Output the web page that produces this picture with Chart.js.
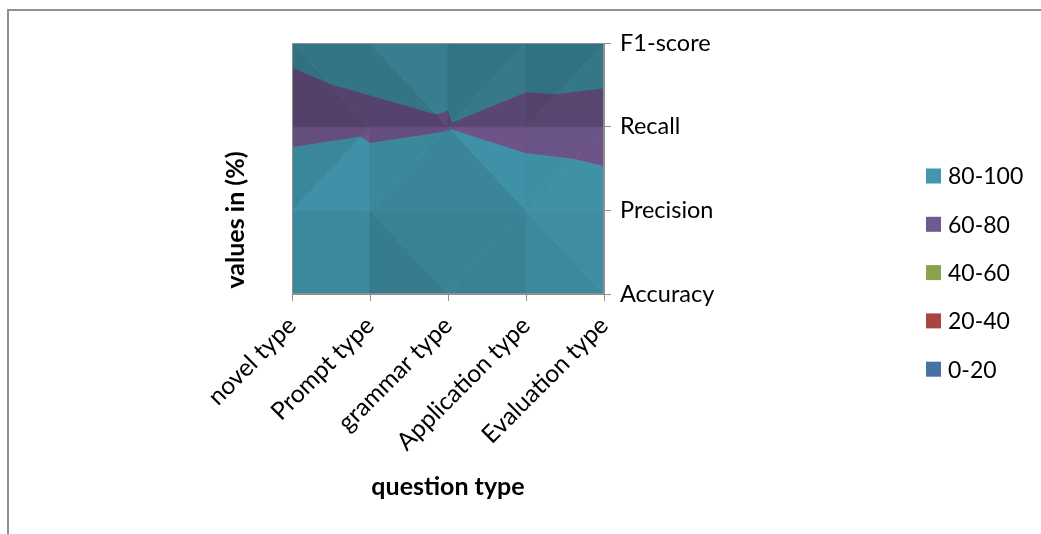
<!DOCTYPE html>
<html>
<head>
<meta charset="utf-8">
<script src="https://cdn.jsdelivr.net/npm/chart.js@4"></script>
<style>
  html, body { margin: 0; padding: 0; background: #fff; overflow: hidden; }
  #frame { position: absolute; left: 7px; top: 9px; width: 1100px; height: 600px;
           border-left: 2px solid #8f8f8f; border-top: 2px solid #8f8f8f; }
  canvas { position: absolute; left: 0; top: 0; }
</style>
</head>
<body>
<div id="frame"></div>
<canvas id="c" width="1041" height="534"></canvas>
<script>
// ---- data (values in %) ----
const categories = ['novel type', 'Prompt type', 'grammar type', 'Application type', 'Evaluation type'];
const metrics = ['Accuracy', 'Precision', 'Recall', 'F1-score'];
const accuracy  = [91, 86, 91, 92, 89];
const precision = [92, 86.8, 89.9, 92.6, 88.7];
const recall    = [76, 78.3, 79.5, 74, 72];
const f1score   = [81.6, 82.8, 82, 88.4, 89.2];
const bandLabels = ['0-20', '20-40', '40-60', '60-80', '80-100'];
const bandEdges  = [0, 20, 40, 60, 80, 100];
const bandColors = [[79,129,189],[192,80,77],[155,187,89],[128,100,162],[75,172,198]];
// triangulation of each surface cell: 'u' = "/" diagonal, 'd' = "\" diagonal (rows bottom->top)
const cellSplit = [['u','d','u','d'], ['u','u','d','u'], ['d','d','u','u']];

const grid = [accuracy, precision, recall, f1score]; // grid[row][col]

const FONT = 'Lato, "Open Sans", sans-serif';

function shadeFactor(gx, gy) {
  const base = gy > 0 ? 0.79 - 0.12 * Math.tanh(gy / 4) : 0.79 + 0.02 * Math.tanh(-gy / 4);
  const tx = Math.tanh(gx / 3);
  return base - (tx > 0 ? 0.05 : 0.035) * tx;
}

function clipPoly(poly, f) {
  const out = [];
  for (let k = 0; k < poly.length; k++) {
    const a = poly[k], b = poly[(k + 1) % poly.length];
    const fa = f(a), fb = f(b);
    if (fa >= 0) out.push(a);
    if ((fa >= 0) !== (fb >= 0)) {
      const t = fa / (fa - fb);
      out.push({x: a.x + t * (b.x - a.x), y: a.y + t * (b.y - a.y), z: a.z + t * (b.z - a.z)});
    }
  }
  return out;
}

function triangles() {
  const tris = [];
  for (let j = 0; j < metrics.length - 1; j++) {
    for (let i = 0; i < categories.length - 1; i++) {
      const p = (x, y) => ({x: x, y: y, z: grid[y][x]});
      const bl = p(i, j), br = p(i + 1, j), tl = p(i, j + 1), tr = p(i + 1, j + 1);
      if (cellSplit[j][i] === 'u') { tris.push([bl, br, tr]); tris.push([bl, tr, tl]); }
      else { tris.push([tl, bl, br]); tris.push([tl, br, tr]); }
    }
  }
  return tris;
}

function gradient(t) {
  const [p, q, r] = t;
  const ux = q.x - p.x, uy = q.y - p.y, uz = q.z - p.z;
  const vx = r.x - p.x, vy = r.y - p.y, vz = r.z - p.z;
  const nx = uy * vz - uz * vy, ny = uz * vx - ux * vz, nz = ux * vy - uy * vx;
  return [-nx / nz, -ny / nz];
}

const surfacePlugin = {
  id: 'surface',
  beforeDatasetsDraw(chart) {
    const {ctx, chartArea, scales: {x, y}} = chart;
    ctx.save();
    ctx.beginPath();
    ctx.rect(chartArea.left, chartArea.top, chartArea.right - chartArea.left, chartArea.bottom - chartArea.top);
    ctx.clip();
    for (const t of triangles()) {
      const [gx, gy] = gradient(t);
      const f = shadeFactor(gx, gy);
      for (let b = 0; b < bandLabels.length; b++) {
        const lo = b === 0 ? -Infinity : bandEdges[b];
        const hi = b === bandLabels.length - 1 ? Infinity : bandEdges[b + 1];
        let poly = clipPoly(t, v => v.z - lo);
        if (poly.length < 3) continue;
        poly = clipPoly(poly, v => hi - v.z);
        if (poly.length < 3) continue;
        const c = bandColors[b].map(v => Math.round(v * f));
        const col = `rgb(${c[0]},${c[1]},${c[2]})`;
        ctx.beginPath();
        poly.forEach((v, k) => {
          const px = x.getPixelForValue(v.x), py = y.getPixelForValue(v.y);
          if (k === 0) ctx.moveTo(px, py); else ctx.lineTo(px, py);
        });
        ctx.closePath();
        ctx.fillStyle = col;
        ctx.strokeStyle = col;
        ctx.lineWidth = 0.8;
        ctx.fill();
        ctx.stroke();
      }
    }
    ctx.restore();
    ctx.save();
    ctx.strokeStyle = '#8f8f8f';
    ctx.lineWidth = 1;
    ctx.strokeRect(chartArea.left + 0.5, chartArea.top + 0.5, chartArea.right - chartArea.left - 1, chartArea.bottom - chartArea.top - 1);
    ctx.restore();
  },
  afterDraw(chart) {
    const {ctx} = chart;
    ctx.save();
    ctx.font = `23px ${FONT}`;
    ctx.textBaseline = 'middle';
    ctx.textAlign = 'left';
    for (let k = 0; k < bandLabels.length; k++) {
      const b = bandLabels.length - 1 - k;
      const yc = 176 + k * 48.3;
      const c = bandColors[b].map(v => Math.round(v * 0.88));
      ctx.fillStyle = `rgb(${c[0]},${c[1]},${c[2]})`;
      ctx.fillRect(926, yc - 7.5, 15, 15);
      ctx.fillStyle = '#000';
      ctx.fillText(bandLabels[b], 948, yc + 1);
    }
    ctx.font = `bold 25px ${FONT}`;
    ctx.textAlign = 'center';
    ctx.fillText('question type', 448, 487);
    ctx.translate(236, 220);
    ctx.rotate(-Math.PI / 2);
    ctx.fillText('values in (%)', 0, 0);
    ctx.restore();
  }
};

const pointData = [];
grid.forEach((row, j) => row.forEach((v, i) => pointData.push({x: i, y: j, v: v})));

new Chart(document.getElementById('c'), {
  type: 'scatter',
  data: { datasets: [{ label: 'surface', data: pointData, pointRadius: 0, showLine: false }] },
  options: {
    responsive: false,
    animation: false,
    events: [],
    layout: { padding: { left: 292, top: 43, right: 0, bottom: 0 } },
    plugins: { legend: { display: false }, tooltip: { enabled: false } },
    scales: {
      x: {
        type: 'linear', min: 0, max: categories.length - 1, position: 'bottom', z: 1,
        grid: { display: true, drawOnChartArea: false, drawTicks: true, tickLength: 7, color: '#8f8f8f' },
        border: { display: true, color: '#8f8f8f' },
        ticks: { stepSize: 1, autoSkip: false, maxRotation: 45, minRotation: 45, padding: 10,
                 color: '#000', font: { family: FONT, size: 24.5 },
                 callback: v => categories[v] },
        afterFit: s => { s.height = 240; }
      },
      y: {
        type: 'linear', min: 0, max: metrics.length - 1, position: 'right', z: 1,
        grid: { display: true, drawOnChartArea: false, drawTicks: true, tickLength: 7, color: '#8f8f8f' },
        border: { display: true, color: '#8f8f8f' },
        ticks: { stepSize: 1, padding: 9, color: '#000', font: { family: FONT, size: 23.5 },
                 callback: v => metrics[v] },
        afterFit: s => { s.width = 437; }
      }
    }
  },
  plugins: [surfacePlugin]
});
</script>
</body>
</html>
